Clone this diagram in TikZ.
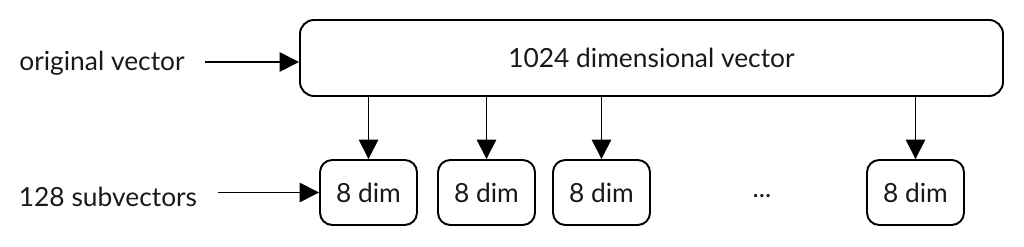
\documentclass[tikz,border=0pt]{standalone}
\usepackage{fontspec}
\setmainfont{Lato}
\usetikzlibrary{arrows.meta}

\tikzset{
  vecbox/.style={draw, line width=1.1pt, rounded corners=8pt, minimum width=14.06cm, minimum height=1.52cm},
  subbox/.style={draw, line width=1.1pt, rounded corners=7pt, minimum width=1.94cm, minimum height=1.3cm},
  feed/.style={-{Triangle[length=11pt,width=11pt]}, line width=0.9pt},
  label/.style={font=\fontsize{15}{17}\selectfont, text=black!90}
}

\begin{document}
\begin{tikzpicture}
\useasboundingbox (0,0) rectangle (20.48,4.94);
\node[vecbox, label] (vec) at (13.03,3.78) {1024 dimensional vector};
\node[subbox, label] (s1) at (7.37,1.09) {8 dim};
\node[subbox, label] (s2) at (9.73,1.09) {8 dim};
\node[subbox, label] (s3) at (12.03,1.09) {8 dim};
\node[subbox, label] (s4) at (18.31,1.09) {8 dim};
\node[label] (dots) at (15.24,1.02) {...};
\node[label] (orig) at (2.04,3.68) {original vector};
\node[label] (subs) at (2.16,1.0) {128 subvectors};
\coordinate (origin) at (4.10,3.70);
\coordinate (subin) at (4.36,1.09);
\draw[feed] (origin) -- (origin -| vec.west);
\draw[feed] (subin) -- (s1.west);
\draw[feed] (vec.south -| s1) -- (s1.north);
\draw[feed] (vec.south -| s2) -- (s2.north);
\draw[feed] (vec.south -| s3) -- (s3.north);
\draw[feed] (vec.south -| s4) -- (s4.north);
\end{tikzpicture}
\end{document}
